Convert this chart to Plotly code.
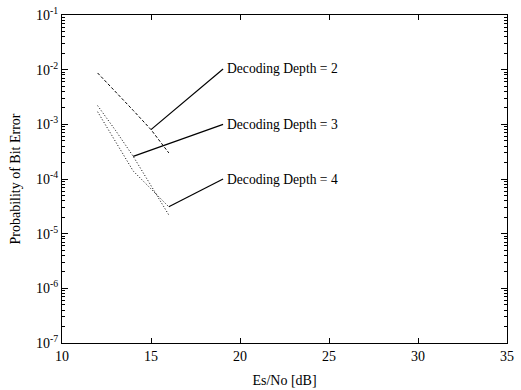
import math
import plotly.graph_objects as go

es_no = [12, 13, 14, 15, 16]
depth2 = [8.7e-3, 4.0e-3, 1.8e-3, 8.0e-4, 3.0e-4]
depth3 = [2.2e-3, 7.8e-4, 2.6e-4, 7.4e-5, 2.2e-5]
depth4 = [1.7e-3, 4.9e-4, 1.4e-4, 6.6e-5, 3.1e-5]

labels = ["Decoding Depth = 2", "Decoding Depth = 3", "Decoding Depth = 4"]
label_x = [19.05, 19.05, 19.05]
label_y = [1.03e-2, 1.0e-3, 1.0e-4]
point_x = [15, 14, 16]
point_y = [8.0e-4, 2.6e-4, 3.1e-5]

ytick_vals = [1e-7, 1e-6, 1e-5, 1e-4, 1e-3, 1e-2, 1e-1]
ytick_text = ["10<sup>-7</sup>", "10<sup>-6</sup>", "10<sup>-5</sup>", "10<sup>-4</sup>",
              "10<sup>-3</sup>", "10<sup>-2</sup>", "10<sup>-1</sup>"]
minor_vals = [m * 10 ** e for e in range(-7, -1) for m in range(2, 10)]

font = "Liberation Serif"

fig = go.Figure()
fig.add_trace(go.Scatter(x=es_no, y=depth2, mode="lines",
                         line=dict(color="black", width=1, dash="3px,2px")))
fig.add_trace(go.Scatter(x=es_no, y=depth3, mode="lines",
                         line=dict(color="black", width=1, dash="1px,2px")))
fig.add_trace(go.Scatter(x=es_no, y=depth4, mode="lines",
                         line=dict(color="black", width=1, dash="1px,2px")))

for lx, ly, px, py, txt in zip(label_x, label_y, point_x, point_y, labels):
    fig.add_trace(go.Scatter(x=[px, lx], y=[py, ly], mode="lines",
                             line=dict(color="black", width=1.2)))
    fig.add_annotation(x=lx, y=math.log10(ly), xref="x", yref="y", text=txt,
                       showarrow=False, xanchor="left", yanchor="middle", xshift=2,
                       font=dict(family=font, size=13.6, color="black"))

fig.update_layout(
    width=521, height=390,
    margin=dict(l=62, r=14, t=15, b=47),
    paper_bgcolor="white", plot_bgcolor="white",
    showlegend=False,
    font=dict(family=font, size=14, color="black"),
)
fig.update_xaxes(
    range=[10, 35], tickvals=[10, 15, 20, 25, 30, 35],
    ticks="inside", ticklen=5, tickcolor="black", automargin=False,
    showline=True, linecolor="black", linewidth=1.2, mirror="ticks",
    showgrid=False, zeroline=False,
    title=dict(text="Es/No [dB]", font=dict(family=font, size=14), standoff=12),
    tickfont=dict(family=font, size=14),
)
fig.update_yaxes(
    type="log", range=[-7, -1], tickvals=ytick_vals, ticktext=ytick_text,
    ticks="inside", ticklen=6, tickcolor="black", automargin=False,
    minor=dict(tickvals=minor_vals, ticks="inside", ticklen=3, tickcolor="black", showgrid=False),
    showline=True, linecolor="black", linewidth=1.2, mirror="ticks",
    showgrid=False, zeroline=False,
    title=dict(text="Probability of Bit Error", font=dict(family=font, size=14), standoff=12),
    tickfont=dict(family=font, size=14),
)

fig.write_html("out.html")
